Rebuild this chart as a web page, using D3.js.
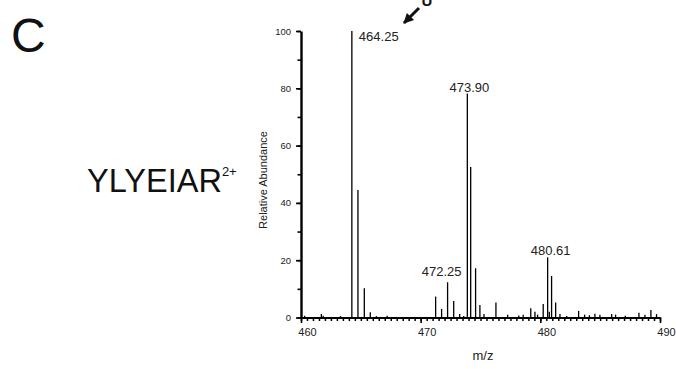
<!DOCTYPE html>
<html><head><meta charset="utf-8">
<script src="https://cdn.jsdelivr.net/npm/d3@7"></script>
<style>
html,body{margin:0;padding:0;background:#fff;}
svg{display:block;font-family:"Liberation Sans",Arial,sans-serif;}
</style></head>
<body>
<svg id="chart" width="676" height="369"></svg>
<script>
// ---- data ----
const mz = [460.3,461.7,461.85,463.3,464.25,464.76,465.29,465.79,466.3,467.2,
  471.25,471.75,472.25,472.76,473.26,473.6,473.90,474.18,474.59,474.95,475.29,
  476.29,477.27,478.2,478.57,479.2,479.55,479.77,480.24,480.61,480.75,480.94,481.28,481.64,
  482.2,483.2,483.7,484.1,484.56,484.98,485.96,486.29,487.1,488.24,488.74,489.24,489.71];
const intensity = [0.6,1.2,0.6,0.5,100,44.5,10.2,1.8,0.5,0.6,
  7.3,3.0,12.3,5.8,1.2,0.5,78.2,52.5,17.2,4.4,1.2,
  5.2,1.0,0.7,1.0,3.2,2.0,1.0,4.7,21.0,2.0,14.5,5.2,1.2,
  0.5,2.3,1.0,0.8,1.3,1.0,1.2,1.0,0.6,1.7,1.0,2.6,1.2];
const labeledPeaks = [464.25,473.90,472.25,480.61];
const peakLabels = ["464.25","473.90","472.25","480.61"];
const xMajor = [460,470,480,490];
const yMajor = [0,20,40,60,80,100];

const svg = d3.select("#chart");
const x = d3.scaleLinear().domain([460,490]).range([301,660]);
const y = d3.scaleLinear().domain([0,100]).range([317.5,31]);

// peaks
svg.append("g").selectAll("line").data(mz.map((m,i)=>({m,v:intensity[i]}))).join("line")
  .attr("x1",d=>x(d.m)).attr("x2",d=>x(d.m))
  .attr("y1",y(0)).attr("y2",d=>y(d.v))
  .attr("stroke","#000").attr("stroke-width",1.3);

// x axis minor
const xMinor = d3.range(460,490.001,0.5);
const gxm = svg.append("g").attr("transform",`translate(0,${y(0)})`)
  .call(d3.axisBottom(x).tickValues(xMinor).tickSize(3.5).tickFormat(""));
gxm.select(".domain").remove();
gxm.selectAll("line").attr("stroke-width",1.5);
const gx = svg.append("g").attr("transform",`translate(0,${y(0)})`)
  .call(d3.axisBottom(x).tickValues(xMajor).tickSize(5.5).tickSizeOuter(0).tickFormat(d3.format("d")));
gx.select(".domain").attr("stroke-width",2.2);
gx.selectAll("line").attr("stroke-width",1.6);
gx.selectAll("text").attr("font-size",11).attr("dx",6).attr("dy","0.9em").attr("fill","#222")
  .attr("font-family","'Liberation Sans',Arial,sans-serif");

// y axis
const gym = svg.append("g").attr("transform",`translate(${x(460)},0)`)
  .call(d3.axisLeft(y).tickValues(d3.range(0,101,10)).tickSize(3.5).tickFormat(""));
gym.select(".domain").remove();
gym.selectAll("line").attr("stroke-width",1.6);
const gy = svg.append("g").attr("transform",`translate(${x(460)},0)`)
  .call(d3.axisLeft(y).tickValues(yMajor).tickSize(5).tickSizeOuter(0).tickPadding(5));
gy.select(".domain").attr("stroke-width",2.4);
gy.selectAll("line").attr("stroke-width",1.6);
gy.selectAll("text").attr("font-size",9.5).attr("fill","#222")
  .attr("font-family","'Liberation Sans',Arial,sans-serif");

// peak labels
const lblPos = [
  {dx:7, anchor:"start"},
  {dx:2, anchor:"middle"},
  {dx:-6, anchor:"middle"},
  {dx:3, anchor:"middle"}
];
const baselines = [41,92,276,255];
svg.append("g").selectAll("text").data(labeledPeaks).join("text")
  .attr("x",(d,i)=>x(d)+lblPos[i].dx)
  .attr("y",(d,i)=>baselines[i])
  .attr("text-anchor",(d,i)=>lblPos[i].anchor)
  .attr("font-size",13).attr("fill","#222")
  .text((d,i)=>peakLabels[i]);

// axis titles
svg.append("text").attr("x",483).attr("y",360).attr("text-anchor","middle")
  .attr("font-size",13).attr("fill","#222").text("m/z");
svg.append("text").attr("transform","translate(267,180) rotate(-90)").attr("text-anchor","middle")
  .attr("font-size",11).attr("fill","#222").text("Relative Abundance");

// panel letter and peptide
svg.append("text").attr("x",11).attr("y",52).attr("font-size",48).attr("fill","#111").text("C");
const pep = svg.append("text").attr("x",87).attr("y",192).attr("font-size",32.5).attr("fill","#111");
pep.append("tspan").text("YLYEIAR");
pep.append("tspan").attr("font-size",13).attr("dy",-16).text("2+");

// arrow
svg.append("defs").append("marker").attr("id","ah").attr("viewBox","0 0 10 10")
  .attr("refX",9).attr("refY",5).attr("markerWidth",4).attr("markerHeight",3.4)
  .attr("orient","auto").attr("markerUnits","strokeWidth")
  .append("path").attr("d","M0,0L10,5L0,10Z").attr("fill","#111");
svg.append("line").attr("x1",419).attr("y1",8).attr("x2",404).attr("y2",23)
  .attr("stroke","#111").attr("stroke-width",3).attr("marker-end","url(#ah)");
svg.append("text").attr("x",427).attr("y",6).attr("text-anchor","middle")
  .attr("font-size",15).attr("font-weight","bold").attr("fill","#111").text("U");
</script>
</body></html>
